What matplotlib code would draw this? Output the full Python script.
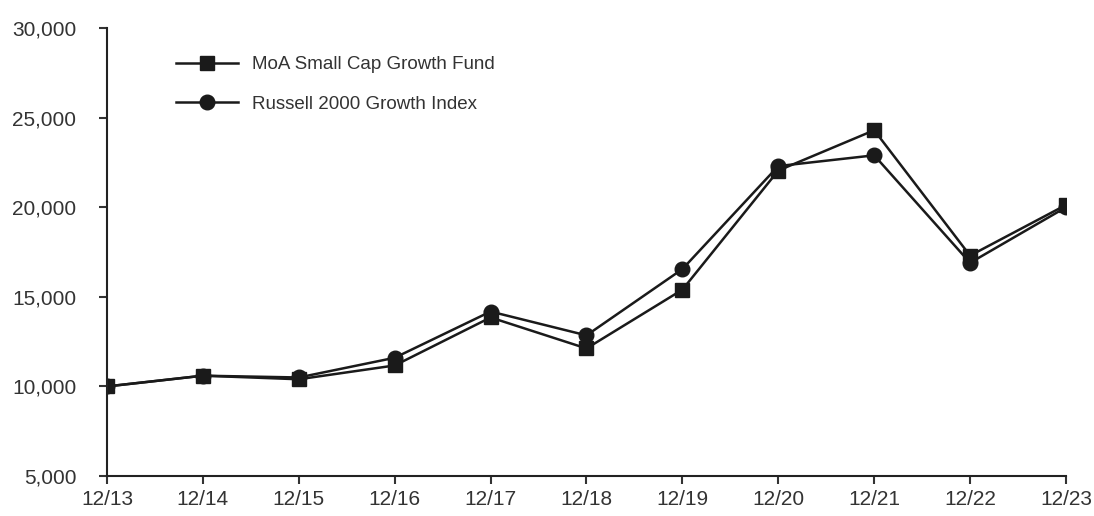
import matplotlib.pyplot as plt

plt.rcParams['font.family'] = ['Liberation Sans', 'DejaVu Sans']

periods = ['12/13', '12/14', '12/15', '12/16', '12/17', '12/18',
           '12/19', '12/20', '12/21', '12/22', '12/23']
fund = [10000, 10600, 10400, 11170, 13850, 12120, 15400, 22050, 24300, 17300, 20130]
russell = [10000, 10600, 10500, 11600, 14180, 12850, 16550, 22300, 22900, 16900, 20000]
y_ticks = [5000, 10000, 15000, 20000, 25000, 30000]

fig = plt.figure(figsize=(10.94, 5.16), dpi=100)
ax = fig.add_axes([0.0978, 0.0775, 0.8766, 0.868])

x = range(len(periods))
ax.plot(x, fund, color='#1a1a1a', lw=1.8, marker='s', ms=10.5,
        label='MoA Small Cap Growth Fund')
ax.plot(x, russell, color='#1a1a1a', lw=1.8, marker='o', ms=10.5,
        label='Russell 2000 Growth Index')

ax.set_xlim(0, len(periods) - 1)
ax.set_ylim(5000, 30000)
ax.set_xticks(list(x))
ax.set_xticklabels(periods)
ax.set_yticks(y_ticks)
ax.set_yticklabels([f'{v:,}' for v in y_ticks])
ax.tick_params(labelsize=15, colors='#333333', length=6, width=1.5, pad=4)
ax.tick_params(axis='y', pad=16)

for side in ['top', 'right']:
    ax.spines[side].set_visible(False)
for side in ['left', 'bottom']:
    ax.spines[side].set_linewidth(1.5)
    ax.spines[side].set_color('#222222')

leg = ax.legend(loc='upper left', bbox_to_anchor=(0.054, 0.975), frameon=False,
                fontsize=13.5, handlelength=3.3, labelspacing=1.2, handletextpad=0.75)
for t in leg.get_texts():
    t.set_color('#333333')

fig.savefig('out.png', dpi=100)
